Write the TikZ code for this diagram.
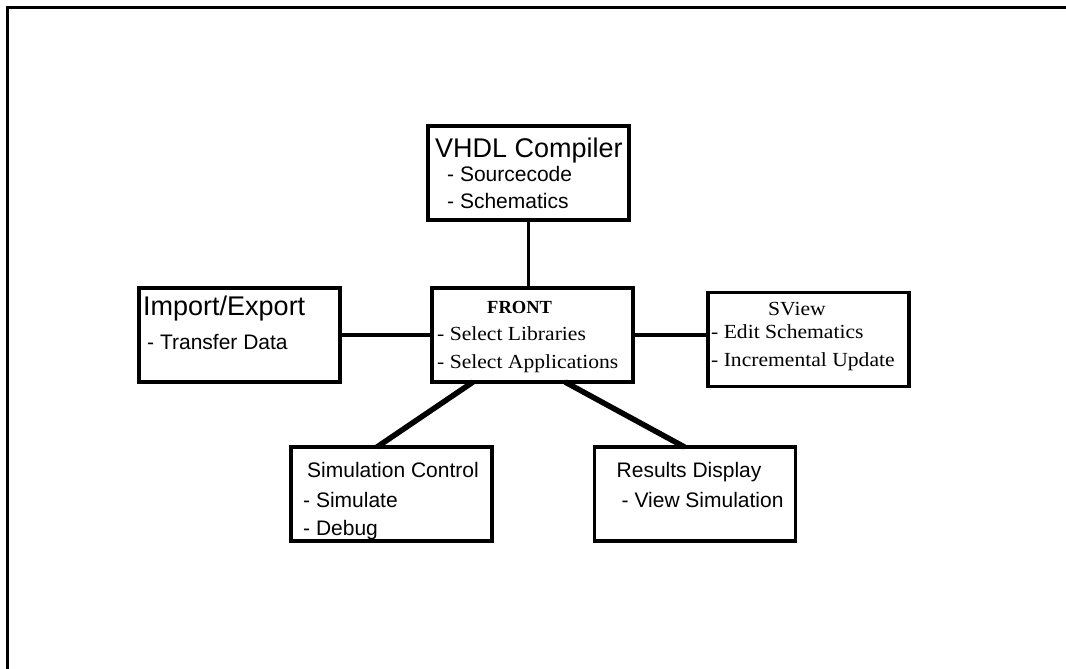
\documentclass[tikz,border=0pt]{standalone}
\usepackage{fontspec}
\newfontfamily\armfont{Liberation Sans}
\newfontfamily\timfont{Liberation Serif}
\newfontfamily\timwide[FakeStretch=1.08]{Liberation Serif}
\usetikzlibrary{positioning}
\tikzset{
  module/.style = {
    rectangle, draw=black, line width=3.2pt,
    minimum width=201pt, minimum height=94pt,
    inner sep=0pt, outer sep=0pt
  },
  headline/.style = {
    anchor=base west, inner sep=0pt,
    font=\armfont\fontsize{27}{27}\selectfont
  },
  entry/.style = {
    anchor=base west, inner sep=0pt,
    font=\armfont\fontsize{21}{21}\selectfont
  },
  serhead/.style = {
    anchor=base west, inner sep=0pt,
    font=\timfont\bfseries\fontsize{18.5}{18.5}\selectfont
  },
  serentry/.style = {
    anchor=base west, inner sep=0pt,
    font=\timwide\fontsize{20}{20}\selectfont
  },
  link/.style = {line width=3.2pt},
  heavylink/.style = {line width=5.5pt},
  frame/.style = {line width=3pt}
}

\begin{document}
\begin{tikzpicture}[x=1pt, y=-1pt]
  \useasboundingbox (0,0) rectangle (1066,669);
  \draw[frame] (7,669) -- (7,8) -- (1066,8);

  \node[module] (front) at (532.5,335) {};
  \node[module] (vhdl)  [above=68pt of front, xshift=-4pt] {};
  \node[module] (imex)  [left=92pt of front] {};
  \node[module] (sview) [right=75pt of front, yshift=-4.5pt] {};
  \node[module] (simctl)  [below=65pt of front, xshift=-141pt] {};
  \node[module] (results) [below=65pt of front, xshift=162.5pt] {};

  % texts inside the boxes
  \node[headline] (vhdl-t) at ([shift={(7,31)}]vhdl.north west) {VHDL Compiler};
  \node[entry] (vhdl-a) at ([shift={(19,55)}]vhdl.north west) {- Sourcecode};
  \node[entry] (vhdl-b) at ([shift={(19,82)}]vhdl.north west) {- Schematics};

  \node[serhead]  (front-t) at ([shift={(55,25)}]front.north west) {FRONT};
  \node[serentry] (front-a) at ([shift={(5,52)}]front.north west) {- Select Libraries};
  \node[serentry] (front-b) at ([shift={(5,80)}]front.north west) {- Select Applications};

  \node[headline] (imex-t) at ([shift={(4,27)}]imex.north west) {Import/Export};
  \node[entry] (imex-a) at ([shift={(8,61)}]imex.north west) {- Transfer Data};

  \node[serentry] (sview-t) at ([shift={(60,23)}]sview.north west) {SView};
  \node[serentry] (sview-a) at ([shift={(3,46)}]sview.north west) {- Edit Schematics};
  \node[serentry] (sview-b) at ([shift={(3,74)}]sview.north west) {- Incremental Update};

  \node[entry] (simctl-t) at ([shift={(16,30)}]simctl.north west) {Simulation Control};
  \node[entry] (simctl-a) at ([shift={(12,60)}]simctl.north west) {- Simulate};
  \node[entry] (simctl-b) at ([shift={(12,88)}]simctl.north west) {- Debug};

  \node[entry] (results-t) at ([shift={(22,30)}]results.north west) {Results Display};
  \node[entry] (results-a) at ([shift={(27,60)}]results.north west) {- View Simulation};

  \draw[link] (vhdl.south) -- (vhdl.south |- front.north);
  \draw[link] (imex.east) -- (front.west);
  \draw[link] (front.east) -- (front.east -| sview.west);
  \draw[heavylink] ([xshift=41pt]front.south west) -- ([xshift=86pt]simctl.north west);
  \draw[heavylink] ([xshift=133pt]front.south west) -- ([xshift=90pt]results.north west);

\end{tikzpicture}
\end{document}
